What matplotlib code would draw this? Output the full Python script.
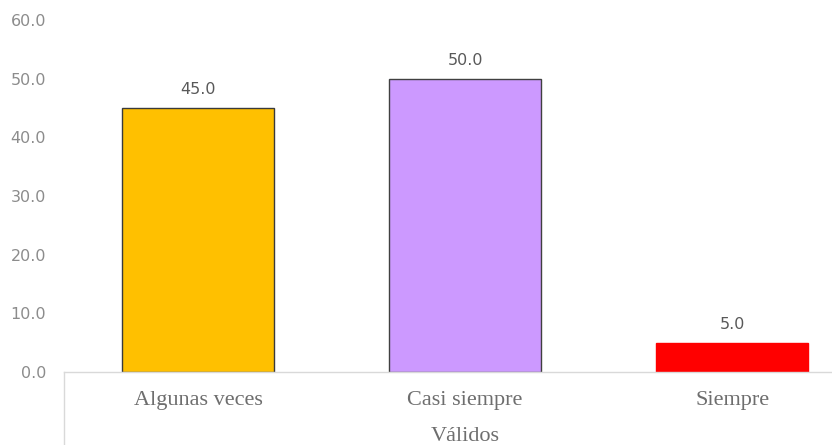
import matplotlib.pyplot as plt
from matplotlib.lines import Line2D

categorias = ['Algunas veces', 'Casi siempre', 'Siempre']
porcentajes = [45.0, 50.0, 5.0]
colores = ['#FFC000', '#CC99FF', '#FF0000']
bordes = ['#3a3a3a', '#404040', '#FF0000']
grupo = 'Válidos'
yticks = [0, 10, 20, 30, 40, 50, 60]

W, H = 832, 445
fig = plt.figure(figsize=(W / 100, H / 100), dpi=100)
ax = fig.add_axes([64 / W, 73 / H, (W - 64) / W, 352 / H])

x = range(len(categorias))
ax.bar(x, porcentajes, width=0.57, color=colores, edgecolor=bordes, linewidth=1.0, zorder=2)

for xi, v in zip(x, porcentajes):
    ax.text(xi, v + 1.9, f'{v:.1f}', ha='center', va='bottom',
            fontsize=11.5, color='#595959', family='DejaVu Sans')

ax.set_xlim(-0.502, 2.374)
ax.set_ylim(0, 60)
ax.set_yticks(yticks)
ax.set_yticklabels([f'{t:.1f}' for t in yticks], fontsize=11.5, color='#8c8c8c')
ax.set_xticks(list(x))
ax.set_xticklabels(categorias, fontsize=16, color='#6e6e6e', family='Liberation Serif')
ax.tick_params(axis='both', length=0)
ax.tick_params(axis='x', pad=14)
ax.tick_params(axis='y', pad=13)

for s in ['top', 'right', 'left']:
    ax.spines[s].set_visible(False)
ax.spines['bottom'].set_color('#d9d9d9')
ax.spines['bottom'].set_linewidth(1.0)

# separador del eje de categorias
fig.add_artist(Line2D([64 / W, 64 / W], [0, 73 / H], color='#d9d9d9', linewidth=1.0))
fig.text(465 / W, 1 - 441 / H, grupo, ha='center', va='baseline',
         fontsize=16, color='#6e6e6e', family='Liberation Serif')

fig.savefig('out.png', dpi=100)
